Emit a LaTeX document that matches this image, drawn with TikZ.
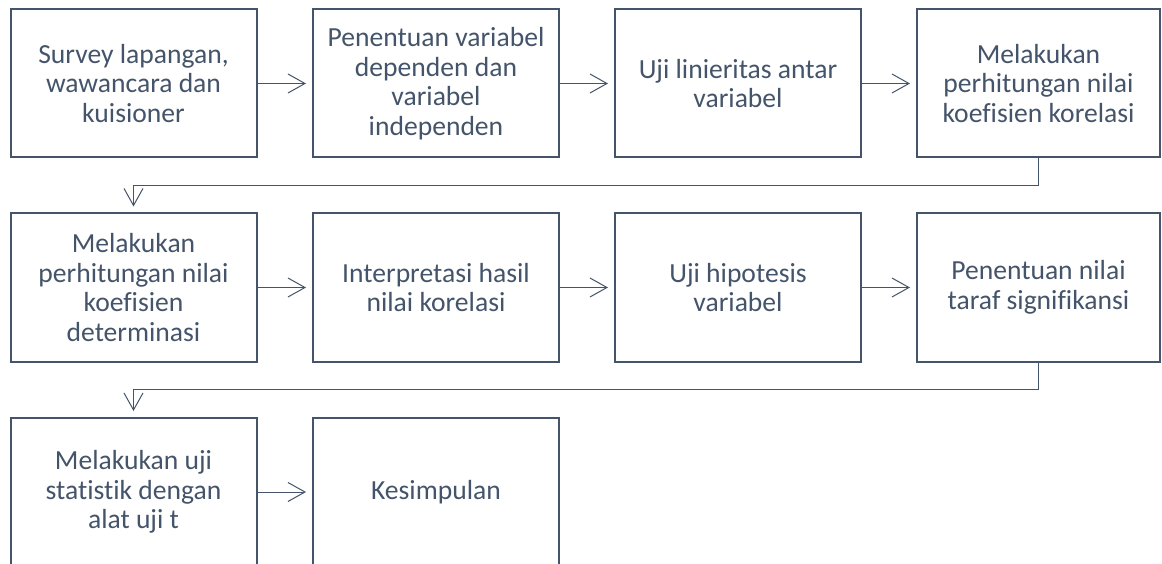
\documentclass[tikz,border=0pt]{standalone}
\usepackage{fontspec}
\setmainfont{Carlito}[RawFeature=-liga]
\usetikzlibrary{arrows.meta,calc}
\definecolor{slate}{HTML}{44546A}
\begin{document}
\begin{tikzpicture}[x=1pt,y=-1pt,
  stepbox/.style={draw=slate, line width=2pt, fill=white, minimum width=246pt, minimum height=148pt,
    align=center, text=slate, font=\fontsize{27.6pt}{29.5pt}\selectfont, inner sep=0pt},
  arr/.style={draw=slate, line width=1pt, shorten >=6pt,
    -{Straight Barb[length=17pt,width=19pt,line width=1pt]}}]
\useasboundingbox[fill=white] (0,0) rectangle (1162,564);
% row 1
\node[stepbox] (b1) at (133.5,83.5) {Survey lapangan,\\wawancara dan\\kuisioner};
\node[stepbox] (b2) at (436,83.5) {Penentuan variabel\\dependen dan\\variabel\\independen};
\node[stepbox] (b3) at (738,83.5) {Uji linieritas antar\\variabel};
\node[stepbox, minimum width=243pt] (b4) at (1038.5,83.5) {Melakukan\\perhitungan nilai\\koefisien korelasi};
% row 2
\node[stepbox] (b5) at (133.5,287.5) {Melakukan\\perhitungan nilai\\koefisien\\determinasi};
\node[stepbox] (b6) at (436,287.5) {Interpretasi hasil\\nilai korelasi};
\node[stepbox] (b7) at (738,287.5) {Uji hipotesis\\variabel};
\node[stepbox, minimum width=243pt] (b8) at (1038.5,287.5) {Penentuan nilai\\taraf signifikansi};
% row 3
\node[stepbox] (b9) at (133.5,492) {Melakukan uji\\statistik dengan\\alat uji t};
\node[stepbox] (b10) at (436,492) {Kesimpulan};
% connectors
\draw[arr] (b1.east) -- (b2.west);
\draw[arr] (b2.east) -- (b3.west);
\draw[arr] (b3.east) -- (b4.west);
\coordinate (m1) at ($(b1.south)!0.5!(b5.north)$);
\draw[arr] (b4.south) |- (m1) -- (b5.north);
\draw[arr] (b5.east) -- (b6.west);
\draw[arr] (b6.east) -- (b7.west);
\draw[arr] (b7.east) -- (b8.west);
\coordinate (m2) at ($(b5.south)!0.5!(b9.north)$);
\draw[arr] (b8.south) |- (m2) -- (b9.north);
\draw[arr] (b9.east) -- (b10.west);
\end{tikzpicture}
\end{document}
